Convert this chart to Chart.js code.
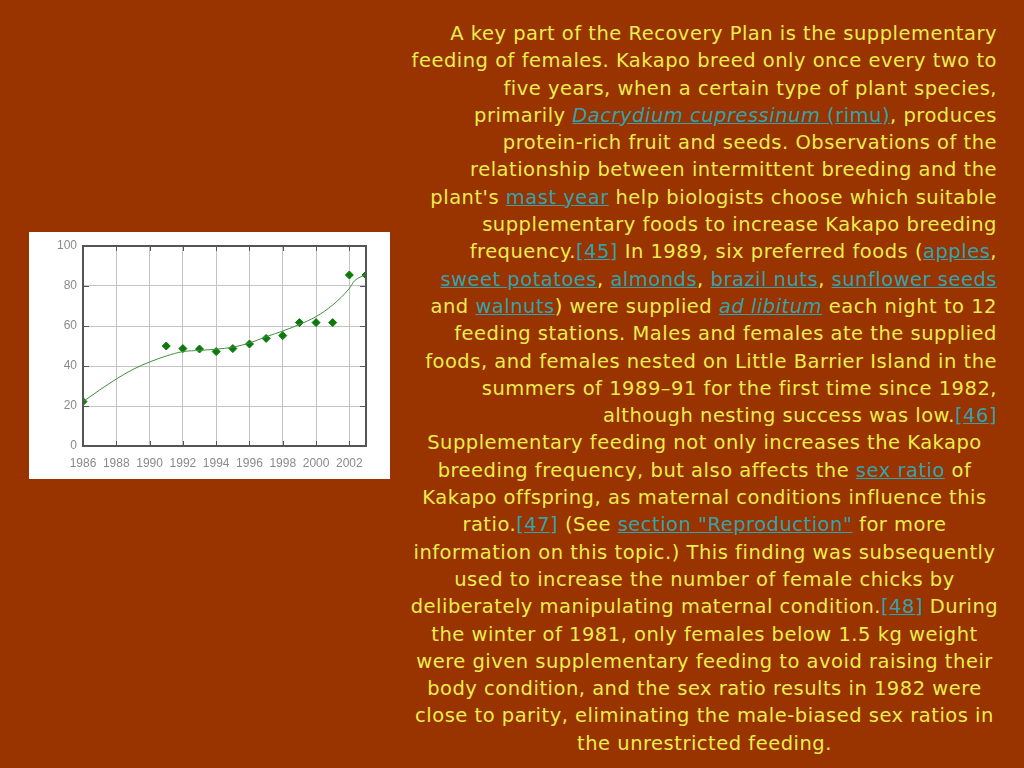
<!DOCTYPE html>
<html>
<head>
<meta charset="utf-8">
<script src="https://cdn.jsdelivr.net/npm/chart.js@4"></script>
<style>
  html, body { margin: 0; padding: 0; }
  body {
    width: 1024px; height: 768px; overflow: hidden;
    background: #993300; position: relative;
    font-family: "DejaVu Sans", sans-serif;
  }
  #chart-box {
    position: absolute; left: 29px; top: 232px;
    width: 361px; height: 247px; background: #ffffff;
  }
  #text-box {
    position: absolute; left: 400px; top: 20px; width: 597px;
    color: #ecec4e; font-size: 19.5px; line-height: 27.3px;
    letter-spacing: 0.5px;
  }
  #text-box div { white-space: nowrap; }
  .right { text-align: right; }
  .center { text-align: center; margin-left: 10px; margin-right: -2px; }
  a { color: #36a2a8; text-decoration: underline; }
</style>
</head>
<body>
<div id="chart-box"><canvas id="kakapo_chart" width="361" height="247"></canvas></div>

<div id="text-box">
  <div class="right">
    <div>A key part of the Recovery Plan is the supplementary</div>
    <div>feeding of females. Kakapo breed only once every two to</div>
    <div>five years, when a certain type of plant species,</div>
    <div>primarily <a><i>Dacrydium cupressinum</i> (rimu)</a>, produces</div>
    <div>protein-rich fruit and seeds. Observations of the</div>
    <div>relationship between intermittent breeding and the</div>
    <div>plant's <a>mast year</a> help biologists choose which suitable</div>
    <div>supplementary foods to increase Kakapo breeding</div>
    <div>frequency.<a>[45]</a> In 1989, six preferred foods (<a>apples</a>,</div>
    <div><a>sweet potatoes</a>, <a>almonds</a>, <a>brazil nuts</a>, <a>sunflower seeds</a></div>
    <div>and <a>walnuts</a>) were supplied <a><i>ad libitum</i></a> each night to 12</div>
    <div>feeding stations. Males and females ate the supplied</div>
    <div>foods, and females nested on Little Barrier Island in the</div>
    <div>summers of 1989–91 for the first time since 1982,</div>
    <div>although nesting success was low.<a>[46]</a></div>
  </div>
  <div class="center">
    <div>Supplementary feeding not only increases the Kakapo</div>
    <div>breeding frequency, but also affects the <a>sex ratio</a> of</div>
    <div>Kakapo offspring, as maternal conditions influence this</div>
    <div>ratio.<a>[47]</a> (See <a>section "Reproduction"</a> for more</div>
    <div>information on this topic.) This finding was subsequently</div>
    <div>used to increase the number of female chicks by</div>
    <div>deliberately manipulating maternal condition.<a>[48]</a> During</div>
    <div>the winter of 1981, only females below 1.5 kg weight</div>
    <div>were given supplementary feeding to avoid raising their</div>
    <div>body condition, and the sex ratio results in 1982 were</div>
    <div>close to parity, eliminating the male-biased sex ratios in</div>
    <div>the unrestricted feeding.</div>
  </div>
</div>

<script>
// observed counts
const point_years = [1986, 1991, 1992, 1993, 1994, 1995, 1996, 1997, 1998, 1999, 2000, 2001, 2002, 2003];
const point_values = [22.2, 50, 48.7, 48.5, 47.2, 48.7, 51, 53.8, 55.2, 61.7, 61.7, 61.7, 85.5, 85.5];

// smoothed trend line
const trend_years = [1986, 1987, 1988, 1989, 1990, 1991, 1992, 1993, 1994, 1995, 1996, 1997, 1998, 1999, 2000, 2001, 2002, 2002.3, 2003];
const trend_values = [22.2, 28, 33.5, 38.3, 42, 45, 47.2, 47.8, 48.4, 49.4, 51.5, 54.6, 57.5, 60.8, 64.7, 70.5, 78.8, 82.5, 85.8];

const x_ticks = [1986, 1988, 1990, 1992, 1994, 1996, 1998, 2000, 2002, 2003];
const y_ticks = [0, 20, 40, 60, 80, 100];

const frame_color = "#555555";

// box round the plot, with short ticks pointing inwards
const frame_plugin = {
  id: "frame",
  afterDatasetsDraw(chart) {
    const ctx = chart.ctx;
    const a = chart.chartArea;
    const xs = chart.scales.x;
    const ys = chart.scales.y;
    ctx.save();
    ctx.strokeStyle = frame_color;
    ctx.lineWidth = 1;
    ctx.beginPath();
    x_ticks.forEach((v) => {
      const px = Math.round(xs.getPixelForValue(v)) + 0.5;
      ctx.moveTo(px, a.top); ctx.lineTo(px, a.top + 5);
      ctx.moveTo(px, a.bottom); ctx.lineTo(px, a.bottom - 5);
    });
    y_ticks.forEach((v) => {
      const py = Math.round(ys.getPixelForValue(v)) + 0.5;
      ctx.moveTo(a.left, py); ctx.lineTo(a.left + 6, py);
      ctx.moveTo(a.right, py); ctx.lineTo(a.right - 6, py);
    });
    ctx.stroke();
    ctx.lineWidth = 2;
    ctx.strokeRect(a.left, a.top, a.right - a.left, a.bottom - a.top);
    ctx.restore();
  },
};

const canvas = document.getElementById("kakapo_chart");

new Chart(canvas, {
  type: "line",
  data: {
    datasets: [
      {
        label: "Trend",
        data: trend_years.map((yr, i) => ({ x: yr, y: trend_values[i] })),
        borderColor: "#3f8f3f",
        borderWidth: 1,
        pointRadius: 0,
        cubicInterpolationMode: "monotone",
        fill: false,
      },
      {
        label: "Count",
        data: point_years.map((yr, i) => ({ x: yr, y: point_values[i] })),
        showLine: false,
        pointStyle: "rectRot",
        pointRadius: 4,
        pointBackgroundColor: "#0b7a0b",
        pointBorderColor: "#0b7a0b",
        pointBorderWidth: 1,
      },
    ],
  },
  options: {
    responsive: false,
    animation: false,
    layout: { padding: { left: 0, top: 14, right: 24, bottom: 0 } },
    plugins: {
      legend: { display: false },
      tooltip: { enabled: false },
    },
    scales: {
      x: {
        type: "linear",
        min: 1986,
        max: 2003,
        afterBuildTicks: (scale) => {
          scale.ticks = x_ticks.map((v) => ({ value: v }));
        },
        afterFit: (scale) => {
          scale.height = 33;
        },
        grid: { color: "#c4c4c4", lineWidth: 1, drawTicks: false },
        border: { display: false },
        ticks: {
          padding: 10,
          color: "#8a8a8a",
          font: { family: "Liberation Sans", size: 12 },
          maxRotation: 0,
          autoSkip: false,
          callback: (v) => (v === 2003 ? "" : String(v)),
        },
      },
      y: {
        type: "linear",
        min: 0,
        max: 100,
        afterBuildTicks: (scale) => {
          scale.ticks = y_ticks.map((v) => ({ value: v }));
        },
        afterFit: (scale) => {
          scale.width = 54;
        },
        grid: { color: "#c4c4c4", lineWidth: 1, drawTicks: false },
        border: { display: false },
        ticks: {
          padding: 6,
          color: "#8a8a8a",
          font: { family: "Liberation Sans", size: 12 },
        },
      },
    },
  },
  plugins: [frame_plugin],
});
</script>
</body>
</html>
